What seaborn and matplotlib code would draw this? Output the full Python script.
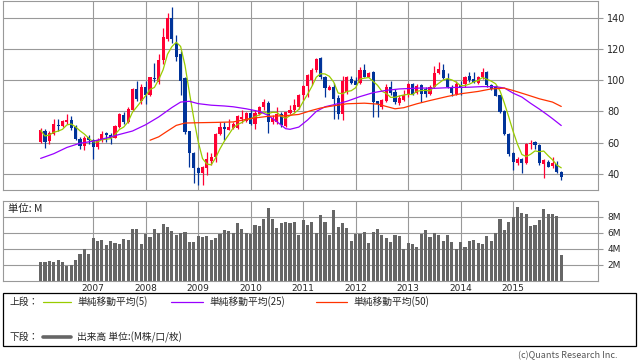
import matplotlib
matplotlib.use("Agg")
import matplotlib.pyplot as plt
import numpy as np
import pandas as pd
import seaborn as sns
from matplotlib.lines import Line2D
from matplotlib.patches import Rectangle

sns.set_style("white")
plt.rcParams["font.family"] = ["Noto Sans CJK JP", "DejaVu Sans"]

# monthly candles, Jan 2006 .. Dec 2015 (month index 0..119)
years = list(range(2007, 2016))
price_ticks = [40, 60, 80, 100, 120, 140]
volume_ticks = [2, 4, 6, 8]
volume_tick_labels = ["2M", "4M", "6M", "8M"]

opens = [
    60.6, 67.3, 61.2, 65.8, 71.4, 70.5, 73.1, 74.3, 70.1, 62.5,
    58.0, 63.7, 61.6, 57.4, 61.6, 66.1, 65.2, 63.3, 70.1, 77.5,
    73.3, 80.7, 94.4, 87.0, 95.9, 90.6, 101.5, 98.7, 113.1, 126.2,
    140.0, 123.7, 116.7, 101.2, 67.3, 53.6, 43.6, 40.8, 44.0, 48.3,
    51.0, 65.4, 70.1, 68.4, 69.7, 69.7, 75.3, 73.9, 79.2, 71.8,
    78.6, 82.8, 85.5, 73.3, 73.3, 78.6, 70.5, 79.2, 80.7, 82.8,
    90.6, 96.0, 100.0, 106.3, 113.9, 102.3, 93.8, 95.9, 88.5, 78.6,
    92.3, 100.8, 99.7, 98.0, 106.5, 102.3, 105.0, 86.6, 82.8, 87.0,
    95.9, 92.3, 85.3, 87.5, 90.8, 97.6, 92.1, 97.2, 94.4, 91.3,
    95.5, 104.4, 106.7, 101.0, 95.9, 91.3, 96.6, 97.6, 102.9, 100.8,
    98.0, 101.9, 105.0, 97.2, 95.9, 90.2, 80.0, 65.8, 53.6, 46.8,
    49.3, 46.8, 59.1, 60.6, 58.4, 46.4, 47.8, 45.1, 46.4, 41.5,
]
highs = [
    69.5, 68.8, 67.3, 75.0, 75.0, 74.7, 78.1, 77.1, 71.1, 63.7,
    64.2, 64.8, 62.7, 63.3, 67.5, 66.9, 66.3, 71.1, 79.0, 79.6,
    82.8, 94.7, 99.3, 97.6, 99.7, 102.3, 111.0, 116.7, 133.6, 143.2,
    146.8, 128.8, 118.8, 102.3, 67.5, 54.2, 44.2, 45.1, 54.2, 53.6,
    66.3, 73.3, 73.3, 75.0, 73.3, 77.5, 80.7, 79.4, 81.7, 80.7,
    83.2, 87.7, 87.0, 77.5, 82.8, 79.6, 79.6, 83.9, 88.1, 91.3,
    97.0, 104.0, 108.0, 114.2, 114.6, 102.9, 96.6, 98.0, 90.2, 102.9,
    102.9, 102.9, 102.3, 108.2, 110.3, 105.0, 106.1, 87.0, 87.9, 97.6,
    99.7, 94.4, 90.2, 93.4, 98.0, 98.0, 97.6, 97.6, 95.9, 97.0,
    109.3, 111.8, 110.3, 104.4, 96.6, 99.7, 99.7, 102.9, 105.0, 105.0,
    102.9, 107.6, 105.7, 97.6, 96.6, 90.8, 80.7, 66.3, 54.2, 51.0,
    50.0, 59.9, 61.6, 61.2, 59.1, 49.3, 48.9, 51.0, 48.5, 42.1,
]
lows = [
    59.9, 56.7, 58.9, 64.8, 67.5, 70.1, 72.2, 68.4, 62.0, 56.1,
    55.3, 59.1, 49.3, 56.3, 60.6, 60.6, 59.5, 62.9, 69.7, 71.8,
    72.6, 80.3, 87.0, 84.9, 84.9, 89.6, 98.7, 97.6, 110.3, 125.2,
    123.5, 112.5, 90.2, 65.8, 44.7, 34.5, 32.8, 33.0, 39.4, 45.7,
    47.8, 65.0, 61.6, 68.0, 69.0, 68.8, 72.6, 73.3, 71.6, 69.0,
    77.5, 80.7, 66.3, 72.2, 72.2, 70.1, 70.1, 78.1, 79.6, 81.7,
    87.5, 89.2, 96.6, 105.0, 100.8, 89.2, 93.4, 75.4, 75.4, 74.7,
    91.3, 97.6, 96.6, 97.6, 101.9, 101.9, 76.4, 76.4, 81.7, 86.0,
    90.2, 84.9, 83.9, 87.0, 89.2, 90.2, 91.3, 86.0, 89.2, 90.2,
    95.1, 104.0, 100.8, 95.1, 89.6, 90.8, 90.8, 95.9, 98.7, 98.0,
    97.6, 100.8, 95.9, 93.8, 89.6, 79.0, 65.0, 51.4, 42.5, 45.7,
    40.8, 46.4, 56.3, 56.3, 45.7, 37.2, 44.2, 43.6, 40.8, 36.2,
]
closes = [
    68.0, 60.6, 66.3, 71.8, 70.5, 73.7, 74.7, 69.2, 62.5, 58.0,
    63.3, 61.6, 57.4, 62.0, 65.4, 65.0, 63.3, 70.5, 78.1, 73.3,
    81.7, 94.2, 87.7, 95.9, 90.6, 101.9, 100.5, 113.1, 127.3, 140.0,
    126.2, 114.6, 99.7, 66.9, 53.6, 43.6, 40.8, 44.7, 49.3, 51.0,
    65.8, 70.1, 69.0, 70.1, 72.2, 76.9, 76.4, 79.0, 71.8, 79.2,
    82.8, 86.0, 73.3, 76.0, 78.6, 71.1, 79.6, 81.1, 83.9, 90.6,
    96.0, 103.0, 106.3, 113.5, 101.9, 95.1, 95.5, 87.7, 78.6, 99.7,
    102.3, 98.0, 97.2, 106.5, 102.3, 104.4, 86.0, 84.5, 87.5, 95.5,
    91.7, 86.0, 88.7, 90.8, 97.6, 90.8, 96.4, 91.3, 91.3, 95.9,
    104.6, 107.2, 101.4, 95.9, 91.7, 97.6, 95.5, 102.3, 100.2, 98.7,
    102.3, 105.0, 96.6, 94.4, 90.2, 79.6, 65.8, 52.7, 47.8, 49.3,
    46.8, 59.5, 59.9, 58.4, 46.8, 48.9, 44.7, 46.8, 41.5, 37.9,
]
volume_m = [
    2.33, 2.33, 2.46, 2.33, 2.58, 2.33, 1.88, 2.04, 2.58, 3.33,
    3.96, 3.33, 5.33, 4.96, 5.08, 4.46, 4.96, 4.75, 4.58, 5.21,
    5.08, 6.46, 6.46, 4.58, 5.88, 5.46, 6.46, 5.96, 7.13, 6.71,
    6.21, 5.71, 5.96, 6.08, 4.83, 4.83, 5.58, 5.46, 5.58, 5.08,
    5.33, 5.88, 6.33, 6.21, 5.96, 7.25, 6.46, 5.96, 5.88, 6.96,
    6.83, 7.71, 9.08, 7.71, 6.58, 7.21, 7.33, 7.21, 7.33, 5.71,
    7.58, 6.96, 7.33, 5.96, 8.21, 7.33, 5.71, 8.83, 6.71, 7.21,
    6.58, 4.96, 5.83, 5.88, 6.08, 4.71, 6.08, 6.46, 5.71, 5.33,
    4.83, 5.71, 5.58, 3.96, 4.71, 4.58, 4.21, 5.83, 6.33, 5.46,
    5.96, 5.71, 4.96, 5.71, 4.83, 3.96, 4.83, 4.21, 4.96, 5.08,
    4.71, 4.58, 5.58, 4.96, 5.96, 7.71, 6.33, 7.33, 7.96, 9.21,
    8.46, 8.33, 6.83, 6.96, 7.58, 8.96, 8.33, 8.33, 8.08, 3.21,
]

# 25 / 50 period averages (history before 2006 not shown)
ma25_month = [0, 3, 6, 9, 12, 15, 18, 21, 24, 27, 30, 32, 34, 36, 39, 42,
              44, 47, 50, 52, 54, 56, 57, 59, 61, 63, 65, 67, 70, 73, 76,
              79, 82, 87, 90, 94, 98, 101, 104, 106, 108, 110, 112, 114,
              116, 117, 119]
ma25 = [50.0, 53.0, 57.0, 59.7, 61.0, 63.0, 65.3, 67.5, 71.5, 76.5, 82.5,
        86.0, 86.5, 85.0, 84.0, 83.5, 83.0, 81.7, 80.0, 77.5, 73.5, 69.0,
        68.6, 70.0, 74.5, 80.0, 83.0, 84.3, 86.5, 89.5, 92.0, 93.5, 94.4,
        95.0, 94.8, 95.3, 95.5, 95.9, 95.8, 95.0, 91.7, 89.2, 85.2, 81.5,
        77.5, 75.4, 71.0]
ma50_month = [25, 27, 29, 31, 33, 36, 40, 44, 48, 52, 56, 59, 62, 64, 66,
              70, 74, 77, 79, 81, 83, 86, 89, 93, 96, 100, 103, 106, 108,
              111, 114, 117, 119]
ma50 = [61.6, 63.8, 67.5, 71.1, 72.6, 72.8, 73.0, 73.3, 75.5, 76.9, 77.3,
        78.1, 80.7, 82.2, 83.2, 84.9, 85.3, 84.7, 83.2, 81.7, 82.4, 84.9,
        87.0, 89.6, 91.3, 92.8, 94.4, 94.9, 93.4, 90.8, 88.1, 86.0, 83.2]

UP = "#ff0033"
DOWN = "#003399"
GRID = "#999999"

df = pd.DataFrame({"open": opens, "high": highs, "low": lows,
                   "close": closes, "volume": volume_m})
df["month"] = np.arange(len(df))
df["ma5"] = df["close"].rolling(5, min_periods=1).mean()
year_pos = [12 * (y - 2006) for y in years]

W, H = 638, 362
fig = plt.figure(figsize=(W / 100, H / 100), dpi=100)


def fx(x):
    return x / W


def fy(y):
    return 1 - y / H


ax = fig.add_axes([fx(3), fy(190), fx(595), 189 / H])
axv = fig.add_axes([fx(3), fy(281), fx(595), 80 / H])

# candles
colors = np.where(df["close"] >= df["open"], UP, DOWN)
ax.vlines(df["month"], df["low"], df["high"], colors=colors, lw=0.9, zorder=2)
body = (df["close"] - df["open"]).abs().clip(lower=0.5)
ax.bar(df["month"], body, bottom=df[["open", "close"]].min(axis=1),
       width=0.72, color=colors, lw=0, zorder=2)

sns.lineplot(x=df["month"], y=df["ma5"], ax=ax, color="#99cc00", lw=0.9, zorder=3)
sns.lineplot(x=ma25_month, y=ma25, ax=ax, color="#9900ff", lw=0.9, zorder=3)
sns.lineplot(x=ma50_month, y=ma50, ax=ax, color="#ff3300", lw=0.9, zorder=3)

sns.barplot(x=df["month"], y=df["volume"], ax=axv, native_scale=True,
            orient="x", color="#666666", saturation=1, width=0.7,
            errorbar=None, linewidth=0)

for a in (ax, axv):
    a.set_xlim(-8.6, 127.4)
    a.set_xlabel("")
    a.set_ylabel("")
    a.set_axisbelow(True)
    a.grid(True, color=GRID, lw=0.8)
    for s in a.spines.values():
        s.set_color(GRID)
        s.set_linewidth(0.8)
    a.yaxis.tick_right()
    a.tick_params(axis="y", length=3.6, color=GRID, labelsize=7, pad=3)
    a.set_xticks(year_pos)

ax.set_ylim(29.8, 150.6)
ax.set_yticks(price_ticks)
ax.set_yticklabels([str(t) for t in price_ticks], family="DejaVu Sans")
ax.tick_params(axis="x", length=0, labelbottom=False)

axv.set_ylim(0, 10)
axv.set_yticks(volume_ticks)
axv.set_yticklabels(volume_tick_labels, family="DejaVu Sans", fontsize=6.5)
axv.set_xticklabels([str(y) for y in years], family="DejaVu Sans", fontsize=6.5)
axv.tick_params(axis="x", length=0, pad=2)

fig.text(fx(8), fy(209), "単位: M", fontsize=7.5, va="center", ha="left")

# legend box
fig.patches.append(Rectangle((fx(3), fy(346)), fx(633), 53 / H, fill=False,
                             ec="black", lw=0.9, transform=fig.transFigure))
row1, row2 = 302, 337
fig.text(fx(10), fy(row1), "上段：", fontsize=7, va="center")
fig.text(fx(10), fy(row2), "下段：", fontsize=7, va="center")
legend_items = [(43, 71, "#99cc00", "単純移動平均(5)"),
                (171, 203, "#9900ff", "単純移動平均(25)"),
                (316, 347, "#ff3300", "単純移動平均(50)")]
for x0, x1, c, label in legend_items:
    fig.lines.append(Line2D([fx(x0), fx(x1)], [fy(row1), fy(row1)], color=c,
                            lw=0.9, transform=fig.transFigure))
    fig.text(fx(x1 + 6), fy(row1), label, fontsize=7, va="center")
fig.lines.append(Line2D([fx(43), fx(71)], [fy(row2), fy(row2)], color="#666666",
                        lw=2.6, transform=fig.transFigure))
fig.text(fx(77), fy(row2), "出来高 単位:(M株/口/枚)", fontsize=7, va="center")

fig.text(fx(618), fy(356), "(c)Quants Research Inc.", fontsize=6.5,
         color="#555555", ha="right", va="center")

fig.savefig("out.png", dpi=100)
plt.close(fig)
